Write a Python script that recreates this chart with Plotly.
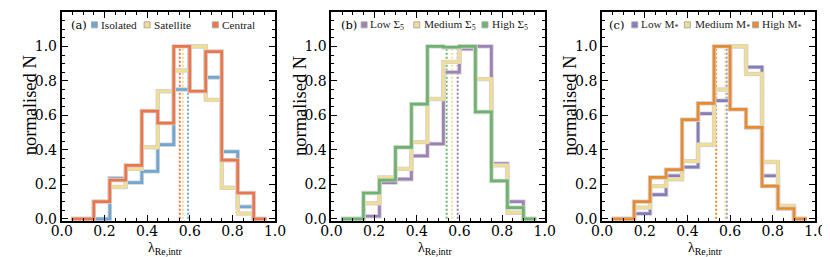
import plotly.graph_objects as go

# ---------------- data ----------------
bin_edges = [0.15, 0.225, 0.30, 0.375, 0.45, 0.525, 0.60, 0.675, 0.75, 0.825, 0.90]
line_start = 0.045
line_end = 0.96

# panel (a): environment
isolated  = [0.00, 0.235, 0.21, 0.275, 0.43, 0.75, 1.00, 0.82, 0.39, 0.07]
satellite = [0.10, 0.185, 0.29, 0.415, 0.74, 0.86, 1.00, 0.69, 0.18, 0.03]
central   = [0.10, 0.225, 0.31, 0.625, 0.555, 1.00, 0.74, 0.97, 0.34, 0.15]
med_a = [0.592, 0.568, 0.553]  # isolated, satellite, central

# panel (b): local density
low_sig  = [0.015, 0.21, 0.23, 0.365, 0.435, 0.85, 0.985, 1.00, 0.32, 0.10]
med_sig  = [0.09, 0.24, 0.29, 0.445, 0.695, 0.91, 1.00, 0.81, 0.31, 0.035]
high_sig = [0.15, 0.225, 0.415, 0.665, 1.00, 0.995, 1.00, 0.62, 0.22, 0.065]
med_b = [0.592, 0.566, 0.540]

# panel (c): stellar mass
low_m  = [0.03, 0.14, 0.25, 0.30, 0.61, 0.685, 1.00, 0.88, 0.25, 0.06]
med_m  = [0.065, 0.19, 0.23, 0.335, 0.43, 0.75, 1.00, 0.84, 0.33, 0.075]
high_m = [0.10, 0.24, 0.285, 0.575, 0.67, 1.00, 0.635, 0.53, 0.19, 0.06]
med_c = [0.584, 0.578, 0.535]

labels_a = ["Isolated", "Satellite", "Central"]
labels_b = ["Low Σ<sub>5</sub>", "Medium Σ<sub>5</sub>", "High Σ<sub>5</sub>"]
labels_c = ["Low M<sub>*</sub>", "Medium M<sub>*</sub>", "High M<sub>*</sub>"]
tags = ["(a)", "(b)", "(c)"]

x_ticks = [0.0, 0.2, 0.4, 0.6, 0.8, 1.0]
y_ticks = [0.0, 0.2, 0.4, 0.6, 0.8, 1.0, 1.2]

# ---------------- style ----------------
colors_a = ["#6fa6d3", "#f2de8e", "#ef7447"]
colors_b = ["#9f80b6", "#f2de8e", "#6cb36b"]
colors_c = ["#877cba", "#f2de8e", "#e98a2d"]
GRAY = "#d2d2d2"
FONT = "DejaVu Serif"
FONT2 = "Liberation Serif"

W, H = 830, 257
frame_left = [44, 321, 599]
frame_w = 219
frame_top, frame_bot = 4, 218

fig = go.Figure()

panels = [
    ([isolated, satellite, central], med_a, colors_a, labels_a),
    ([low_sig, med_sig, high_sig], med_b, colors_b, labels_b),
    ([low_m, med_m, high_m], med_c, colors_c, labels_c),
]

legend_x = [0.153, 0.40, 0.72]
legend_tx = [0.172, 0.425, 0.742]
legend_y = 1.125

annotations = []
for p, (series, medians, cols, labs) in enumerate(panels):
    xa = "x" if p == 0 else f"x{p+1}"
    ya = "y" if p == 0 else f"y{p+1}"
    # median dotted lines
    for m, c in zip(medians, cols):
        fig.add_trace(go.Scatter(x=[m, m], y=[0, 1.0], mode="lines",
                                 line=dict(color=c, width=2, dash="2px,2px"),
                                 xaxis=xa, yaxis=ya, showlegend=False, hoverinfo="skip"))
    # histograms
    for vals, c in zip(series, cols):
        xs = [line_start] + bin_edges + [line_end]
        ys = [0] + vals + [0, 0]
        fig.add_trace(go.Scatter(x=xs, y=ys, mode="lines", line=dict(color=GRAY, width=4.4, shape="hv"),
                                 xaxis=xa, yaxis=ya, showlegend=False, hoverinfo="skip"))
        fig.add_trace(go.Scatter(x=xs, y=ys, mode="lines", line=dict(color=c, width=2.7, shape="hv"),
                                 xaxis=xa, yaxis=ya, showlegend=False, hoverinfo="skip"))
    # legend squares
    fig.add_trace(go.Scatter(x=legend_x, y=[legend_y] * 3, mode="markers",
                             marker=dict(symbol="square", size=6, color=cols,
                                         line=dict(color="#aaaaaa", width=1)),
                             xaxis=xa, yaxis=ya, showlegend=False, hoverinfo="skip", cliponaxis=False))
    annotations.append(dict(x=0.035 if p < 2 else 0.025, y=legend_y, xref=xa, yref=ya, text=tags[p],
                            showarrow=False, xanchor="left", yanchor="middle",
                            font=dict(family=FONT, size=11.5, color="black")))
    for tx, lab in zip(legend_tx, labs):
        annotations.append(dict(x=tx, y=legend_y, xref=xa, yref=ya, text=lab,
                                showarrow=False, xanchor="left", yanchor="middle",
                                font=dict(family=FONT2, size=11.3, color="#222222")))
    # y title
    annotations.append(dict(x=(frame_left[p] - 33) / W, y=1 - 100 / H, xref="paper", yref="paper",
                            text="normalised N", textangle=-90, showarrow=False,
                            xanchor="center", yanchor="middle",
                            font=dict(family=FONT2, size=18.5, color="black")))
    # x title
    annotations.append(dict(x=(frame_left[p] + 106) / W, y=1 - 246 / H, xref="paper", yref="paper",
                            text="λ<sub>Re,intr</sub>", showarrow=False,
                            xanchor="center", yanchor="middle",
                            font=dict(family=FONT2, size=14, color="black")))

axis_common = dict(showline=True, linecolor="black", linewidth=2, mirror="ticks",
                   ticks="inside", ticklen=6, tickwidth=1.2, tickcolor="black",
                   showgrid=False, zeroline=False,
                   tickfont=dict(family=FONT, size=14, color="black"))

layout = dict(width=W, height=H, margin=dict(l=0, r=0, t=0, b=0),
              font=dict(family=FONT, size=14, color="black"),
              paper_bgcolor="white", plot_bgcolor="white", annotations=annotations,
              showlegend=False)
for p in range(3):
    xk = "xaxis" if p == 0 else f"xaxis{p+1}"
    yk = "yaxis" if p == 0 else f"yaxis{p+1}"
    x0 = frame_left[p] / W
    x1 = (frame_left[p] + frame_w) / W
    layout[xk] = dict(axis_common, domain=[x0, x1], range=[0, 1.0], tickvals=x_ticks,
                      ticktext=[f"{v:.1f}" for v in x_ticks], anchor="y" if p == 0 else f"y{p+1}",
                      ticklabelstandoff=-4,
                      minor=dict(dtick=0.05, ticklen=3, ticks="inside", tickcolor="black", tickwidth=1))
    layout[yk] = dict(axis_common, domain=[1 - frame_bot / H, 1 - frame_top / H], range=[-0.012, 1.2],
                      tickvals=y_ticks, ticktext=[f"{v:.1f}" for v in y_ticks],
                      anchor="x" if p == 0 else f"x{p+1}",
                      minor=dict(dtick=0.05, ticklen=3, ticks="inside", tickcolor="black", tickwidth=1))
fig.update_layout(**layout)
fig.write_html("out.html")
